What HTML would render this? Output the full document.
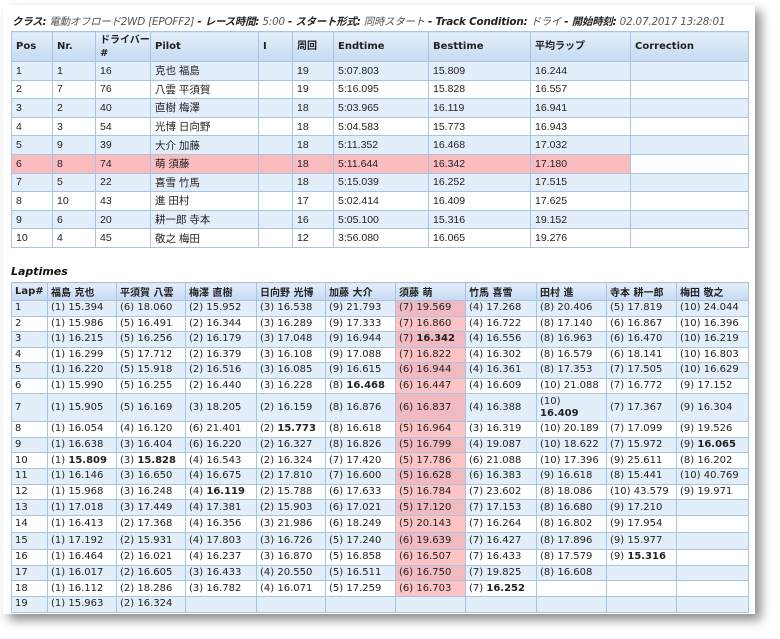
<!DOCTYPE html>
<html><head><meta charset="utf-8">
<style>
html,body{margin:0;padding:0;background:#fff;width:780px;height:639px;overflow:hidden}
#card{position:absolute;left:3px;top:5px;width:752px;height:609px;background:#fff;box-shadow:6px 6px 10px rgba(0,0,0,0.45)}
#hdr{position:absolute;left:12px;top:13px;font:italic 10.4px "DejaVu Sans","Noto Sans CJK JP",sans-serif;color:#555;white-space:nowrap;letter-spacing:-0.2px}
#hdr b{color:#222}
table{border-collapse:collapse;table-layout:fixed;position:absolute;left:11px}
td,th{border:1px solid #a9c3e0;padding:0 0 0 4px;text-align:left;white-space:nowrap;overflow:hidden;vertical-align:middle}
th{background:linear-gradient(#e4eefa,#c6daf2);font:bold 10px "DejaVu Sans","Noto Sans CJK JP",sans-serif;color:#222}
#res{top:31px}
#res td{font:10.5px "Liberation Sans","Noto Sans CJK JP",sans-serif;color:#222;height:17.6px}
#res th{height:29px;line-height:13px}
tr.o td{background:#e3eefb}
tr.e td{background:#fff}
#res tr.hl td.p{background:#fbbcc0}
#lt{top:282px}
#lt th{height:17px;padding-left:3px}
#lt td{font:10px "DejaVu Sans","Noto Sans CJK JP",sans-serif;color:#222;padding-left:3px;line-height:12px}
#lt tr.o td.s{background:#f1b9c0}
#lt tr.e td.s{background:#fdc4c6}
#lttl{position:absolute;left:11px;top:265px;font:bold italic 11px "DejaVu Sans",sans-serif;color:#111}
</style></head><body>
<div id="card"></div>
<div id="hdr"><b>クラス:</b> 電動オフロード2WD [EPOFF2] <b>- レース時間:</b> 5:00 <b>- スタート形式:</b> 同時スタート <b>- Track Condition:</b> ドライ <b>- 開始時刻:</b> 02.07.2017 13:28:01</div>
<table id="res">
<colgroup><col style="width:41px"><col style="width:43px"><col style="width:55px"><col style="width:108px"><col style="width:34px"><col style="width:41px"><col style="width:95px"><col style="width:102px"><col style="width:100px"><col style="width:118px"></colgroup>
<thead><tr><th>Pos</th><th>Nr.</th><th>ドライバー<br>#</th><th>Pilot</th><th>I</th><th>周回</th><th>Endtime</th><th>Besttime</th><th>平均ラップ</th><th>Correction</th></tr></thead>
<tbody id="resb"></tbody></table>
<div id="lttl">Laptimes</div>
<table id="lt">
<colgroup><col style="width:36px"><col style="width:69px"><col style="width:69px"><col style="width:71px"><col style="width:69px"><col style="width:70px"><col style="width:70px"><col style="width:71px"><col style="width:70px"><col style="width:70px"><col style="width:72px"></colgroup>
<thead><tr id="lth"></tr></thead>
<tbody id="ltb"></tbody></table>
<script>
const results=[
["1","1","16","克也 福島","19","5:07.803","15.809","16.244"],
["2","7","76","八雲 平須賀","19","5:16.095","15.828","16.557"],
["3","2","40","直樹 梅澤","18","5:03.965","16.119","16.941"],
["4","3","54","光博 日向野","18","5:04.583","15.773","16.943"],
["5","9","39","大介 加藤","18","5:11.352","16.468","17.032"],
["6","8","74","萌 須藤","18","5:11.644","16.342","17.180"],
["7","5","22","喜雪 竹馬","18","5:15.039","16.252","17.515"],
["8","10","43","進 田村","17","5:02.414","16.409","17.625"],
["9","6","20","耕一郎 寺本","16","5:05.100","15.316","19.152"],
["10","4","45","敬之 梅田","12","3:56.080","16.065","19.276"]];
const drivers=["福島 克也","平須賀 八雲","梅澤 直樹","日向野 光博","加藤 大介","須藤 萌","竹馬 喜雪","田村 進","寺本 耕一郎","梅田 敬之"];
const laps=[
["(1) 15.394","(1) 15.986","(1) 16.215","(1) 16.299","(1) 16.220","(1) 15.990","(1) 15.905","(1) 16.054","(1) 16.638","(1) *15.809","(1) 16.146","(1) 15.968","(1) 17.018","(1) 16.413","(1) 17.192","(1) 16.464","(1) 16.017","(1) 16.112","(1) 15.963"],
["(6) 18.060","(5) 16.491","(5) 16.256","(5) 17.712","(5) 15.918","(5) 16.255","(5) 16.169","(4) 16.120","(3) 16.404","(3) *15.828","(3) 16.650","(3) 16.248","(3) 17.449","(2) 17.368","(2) 15.931","(2) 16.021","(2) 16.605","(2) 18.286","(2) 16.324"],
["(2) 15.952","(2) 16.344","(2) 16.179","(2) 16.379","(2) 16.516","(2) 16.440","(3) 18.205","(6) 21.401","(6) 16.220","(4) 16.543","(4) 16.675","(4) *16.119","(4) 17.381","(4) 16.356","(4) 17.803","(4) 16.237","(3) 16.433","(3) 16.782"],
["(3) 16.538","(3) 16.289","(3) 17.048","(3) 16.108","(3) 16.085","(3) 16.228","(2) 16.159","(2) *15.773","(2) 16.327","(2) 16.324","(2) 17.810","(2) 15.788","(2) 15.903","(3) 21.986","(3) 16.726","(3) 16.870","(4) 20.550","(4) 16.071"],
["(9) 21.793","(9) 17.333","(9) 16.944","(9) 17.088","(9) 16.615","(8) *16.468","(8) 16.876","(8) 16.618","(8) 16.826","(7) 17.420","(7) 16.600","(6) 17.633","(6) 17.021","(6) 18.249","(5) 17.240","(5) 16.858","(5) 16.511","(5) 17.259"],
["(7) 19.569","(7) 16.860","(7) *16.342","(7) 16.822","(6) 16.944","(6) 16.447","(6) 16.837","(5) 16.964","(5) 16.799","(5) 17.786","(5) 16.628","(5) 16.784","(5) 17.120","(5) 20.143","(6) 19.639","(6) 16.507","(6) 16.750","(6) 16.703"],
["(4) 17.268","(4) 16.722","(4) 16.556","(4) 16.302","(4) 16.361","(4) 16.609","(4) 16.388","(3) 16.319","(4) 19.087","(6) 21.088","(6) 16.383","(7) 23.602","(7) 17.153","(7) 16.264","(7) 16.427","(7) 16.433","(7) 19.825","(7) *16.252"],
["(8) 20.406","(8) 17.140","(8) 16.963","(8) 16.579","(8) 17.353","(10) 21.088","(10)|*16.409","(10) 20.189","(10) 18.622","(10) 17.396","(9) 16.618","(8) 18.086","(8) 16.680","(8) 16.802","(8) 17.896","(8) 17.579","(8) 16.608"],
["(5) 17.819","(6) 16.867","(6) 16.470","(6) 18.141","(7) 17.505","(7) 16.772","(7) 17.367","(7) 17.099","(7) 15.972","(9) 25.611","(8) 15.441","(10) 43.579","(9) 17.210","(9) 17.954","(9) 15.977","(9) *15.316"],
["(10) 24.044","(10) 16.396","(10) 16.219","(10) 16.803","(10) 16.629","(9) 17.152","(9) 16.304","(9) 19.526","(9) *16.065","(8) 16.202","(10) 40.769","(9) 19.971"]];
const rowH=[14.5,14.5,14.5,14.5,14.5,14.5,27,14.7,14.7,14.7,14.7,14.7,14.7,15.5,16.5,14.6,14.6,14.6,14.6];
const HL=5;
const rb=document.getElementById('resb');
results.forEach((r,i)=>{
  const tr=document.createElement('tr');
  tr.className=(i%2===0?'o':'e')+(i===HL?' hl':'');
  
  
  const cells=[r[0],r[1],r[2],r[3],"",r[4],r[5],r[6],r[7],""];
  cells.forEach((c,j)=>{
    const td=document.createElement('td');
    td.textContent=c;
    if(j<9) td.className='p';
    
    
    tr.appendChild(td);
  });
  rb.appendChild(tr);
});
const th=document.getElementById('lth');
["Lap#"].concat(drivers).forEach(d=>{
  const e=document.createElement('th');e.textContent=d;
  
  
  th.appendChild(e);
});
const lb=document.getElementById('ltb');
for(let i=0;i<19;i++){
  const tr=document.createElement('tr');
  tr.className=i%2===0?'o':'e';
  
  
  const l=document.createElement('td');l.textContent=i+1;l.style.height=rowH[i]+'px';
  
  
  tr.appendChild(l);
  laps.forEach((col,j)=>{
    const td=document.createElement('td');
    
    
    const v=col[i];
    if(v){
      const sep=v.indexOf('|')>=0?'|':' ';
      const k=v.indexOf(sep);
      const pos=v.slice(0,k), t=v.slice(k+1);
      td.append(pos);
      if(sep==='|') td.appendChild(document.createElement('br')); else td.append(' ');
      if(t[0]==='*'){const b=document.createElement('b');b.textContent=t.slice(1);td.appendChild(b);}
      else td.append(t);
    }
    if(j===HL && i<18) td.className='s';
    tr.appendChild(td);
  });
  lb.appendChild(tr);
}
</script>
</body></html>
